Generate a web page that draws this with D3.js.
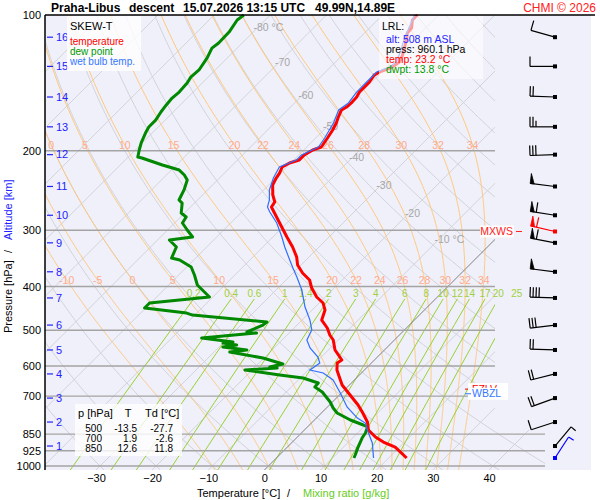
<!DOCTYPE html>
<html>
<head>
<meta charset="utf-8">
<script src="https://cdn.jsdelivr.net/npm/d3@7"></script>
<style>
  body { margin: 0; background: #fff; }
  svg text { font-family: "Liberation Sans", Arial, sans-serif; }
</style>
</head>
<body>
<svg id="chart" width="600" height="500"></svg>
<script>
// sounding: pressure [hPa] and temperature [°C]
const tempP = [100, 102.6, 106.9, 109.6, 113.6, 122.7, 127.2, 130.4, 133.8, 135.9, 140.8, 144.4, 148.2, 152.0, 156.7, 160.0, 162.4, 168.4, 173.6, 179.9, 187.4, 196.2, 199.2, 204.4, 209.7, 212.9, 217.3, 224.1, 229.9, 238.2, 250.6, 259.8, 266.5, 280.5, 295.2, 310.6, 326.9, 344.0, 358.4, 373.3, 386.9, 403.0, 422.0, 435.1, 451.0, 474.7, 494.3, 512.3, 525.5, 553.1, 582.1, 591.0, 612.5, 644.7, 661.3, 696.0, 732.4, 759.1, 798.8, 832.1, 862.5, 884.8, 907.8, 960]
const tempT = [-53.8, -53.8, -52.5, -52.4, -51.3, -49.3, -48.6, -49.0, -50.4, -50.8, -50.4, -50.4, -50.4, -50.0, -49.9, -50.0, -50.4, -49.7, -49.0, -48.4, -47.9, -47.4, -48.4, -49.0, -49.0, -50.2, -50.8, -50.2, -49.9, -49.3, -47.5, -45.9, -45.6, -42.9, -40.2, -37.5, -34.7, -32.2, -30.6, -28.3, -25.8, -24.0, -21.5, -19.3, -17.7, -16.5, -14.1, -12.4, -10.9, -8.8, -5.8, -6.1, -4.9, -2.5, -1.3, 1.9, 5.1, 7.1, 9.8, 11.4, 13.9, 16.2, 19.2, 23.2]

const dewP = [100, 102.6, 109.1, 115.4, 118.4, 124.5, 132.4, 137.3, 141.5, 148.2, 152.8, 158.3, 164.1, 171.0, 177.1, 181.7, 192.2, 199.2, 206.5, 207.5, 215.1, 220.7, 226.4, 232.2, 244.3, 257.2, 261.2, 274.8, 280.5, 289.2, 299.7, 310.6, 315.4, 326.9, 345.8, 349.3, 362.1, 377.1, 396.9, 422.0, 435.1, 446.4, 458.0, 462.7, 479.5, 486.9, 504.5, 507.1, 520.2, 530.9, 533.7, 539.2, 544.7, 553.1, 558.7, 576.1, 594.0, 603.2, 606.3, 612.5, 628.4, 638.1, 654.6, 668.1, 685.3, 721.3, 743.7, 763.0, 790.7, 811.1, 819.4, 845.0, 866.9, 907.8, 945.4, 960]
const dewT = [-84.7, -85.0, -84.3, -84.2, -84.5, -83.6, -82.9, -83.1, -82.7, -82.5, -82.7, -82.5, -82.2, -81.7, -81.7, -81.3, -80.2, -79.3, -78.3, -77.4, -72.5, -68.6, -66.8, -65.4, -64.2, -63.3, -62.2, -60.6, -59.0, -58.6, -56.5, -54.3, -57.9, -55.4, -54.3, -52.5, -49.2, -47.2, -44.9, -40.6, -50.2, -50.2, -41.8, -40.4, -25.9, -26.1, -27.7, -25.8, -34.7, -28.4, -30.0, -27.2, -29.3, -24.5, -27.2, -20.2, -15.6, -17.4, -15.9, -21.3, -14.2, -9.5, -5.9, -5.8, -3.6, -0.4, 1.2, 2.8, 6.4, 9.6, 10.7, 11.4, 11.7, 12.6, 13.5, 13.8]

const wetBulbP = [100, 112.4, 122.7, 127.2, 130.4, 133.8, 140.8, 148.2, 156.7, 162.4, 173.6, 187.4, 196.2, 204.4, 209.7, 217.3, 229.9, 244.3, 257.2, 266.5, 273.4, 289.2, 310.6, 326.9, 349.3, 363.9, 381.0, 407.2, 444.1, 474.7, 499.4, 525.5, 547.5, 573.2, 591.0, 612.5, 622.0, 644.7, 688.8, 740.0, 782.8, 803.0, 840.6, 889.0, 960]
const wetBulbT = [-54.3, -52.0, -49.9, -49.2, -49.5, -50.9, -50.9, -50.9, -50.4, -50.9, -49.5, -48.4, -47.9, -49.5, -49.5, -51.3, -50.4, -49.0, -47.2, -46.3, -45.0, -41.8, -38.4, -36.1, -32.9, -30.9, -28.6, -25.4, -21.8, -18.6, -16.5, -15.6, -13.6, -10.6, -9.2, -9.7, -6.8, -3.8, -0.2, 3.5, 7.3, 9.6, 11.7, 14.4, 17.3]

// winds: pressure [hPa], direction [deg], speed [kt]; index 0 = surface, index 10 = max wind
const windP = [960, 903, 799, 707, 625, 553, 487, 424, 371, 320, 302, 278, 240, 204, 177, 152, 130, 112]
const windDir = [33, 40, 252, 250, 256, 272, 263, 272, 277, 281, 283, 279, 277, 268, 270, 272, 270, 286]
const windSpd = [5, 5, 10, 20, 20, 20, 30, 40, 50, 60, 60, 60, 50, 30, 25, 20, 10, 10]
const surfaceIndex = 0
const maxWindIndex = 10

// altitude ticks [km] and their pressures
const altKm = [1, 2, 3, 4, 5, 6, 7, 8, 9, 10, 11, 12, 13, 14, 15, 16]
const altP = [903, 799, 707, 625, 553, 487, 424, 371, 320, 278, 240, 204, 177, 152, 130, 112]

const pressureTicks = [100, 200, 300, 400, 500, 600, 700, 850, 925, 1000]
const tempTicks = [-30, -20, -10, 0, 10, 20, 30, 40]
const mixRatios = [0.2, 0.4, 0.6, 1, 1.4, 2, 3, 4, 6, 8, 10, 12, 14, 17, 20, 25]
const moistThetaW = [-10, -5, 0, 5, 10, 15, 20, 22, 24, 26, 28, 30, 32, 34]
const isothermLabels = [-80, -70, -60, -50, -40, -30, -20, -10]

const tableRows = [[500, '-13.5', '-27.7'], [700, '1.9', '-2.6'], [850, '12.6', '11.8']]
const lrlLines = [
    ['alt: 508 m ASL', '#2222ff'],
    ['press: 960.1 hPa', '#000'],
    ['temp: 23.2 °C', '#ff0000'],
    ['dwpt: 13.8 °C', '#009900']
]

const svg = d3.select('#chart')

const plotLeft = 45
const plotRight = 495
const plotTop = 15
const plotBottom = 470
const windX = 555

const y = d3.scaleLog().domain([100, 1000]).range([15, 466])
// temperature scale along the bottom edge of the diagram
const xT = d3.scaleLinear().domain([-30, 40]).range([96, 489])
const skewX = (t, p) => xT(t) + (plotBottom - y(p))
const pBottom = y.invert(plotBottom)

const pSteps = d3.range(0, 121).map(i => pBottom * Math.pow(100 / pBottom, i / 120))

// thermodynamics for the background lines
const satVap = tc => 6.112 * Math.exp(17.67 * tc / (tc + 243.5))
const dewFromVap = e => {
    const l = Math.log(e / 6.112)
    return 243.5 * l / (17.67 - l)
}
const moistLapse = (tk, p) => {
    const es = satVap(tk - 273.15)
    const rs = 0.622 * es / (p - es)
    return (287 * tk + 2.5e6 * rs) / (p * (1004 + 2.5e6 * 2.5e6 * rs * 0.622 / (287 * tk * tk)))
}
const moistAdiabat = thw => {
    const integrate = (dp, stop) => {
        const pts = []
        let tk = thw + 273.15
        let p = 1000
        while (dp < 0 ? p > stop : p < stop) {
            pts.push([p, tk - 273.15])
            const k1 = moistLapse(tk, p)
            const k2 = moistLapse(tk + k1 * dp, p + dp)
            tk += (k1 + k2) / 2 * dp
            p += dp
        }
        pts.push([p, tk - 273.15])
        return pts
    }
    return integrate(2, pBottom + 2).reverse().concat(integrate(-2, 100))
}
// temperature on a polyline at a given pressure (points sorted by descending p)
const tempAt = (pts, pt) => {
    for (let i = 1; i < pts.length; i++) {
        const [p0, t0] = pts[i - 1]
        const [p1, t1] = pts[i]
        if (pt <= p0 && pt >= p1) return t0 + (t1 - t0) * (pt - p0) / (p1 - p0)
    }
    return null
}

const gridLine = d3.line().x(d => skewX(d[1], d[0])).y(d => y(d[0]))

svg.append('rect')
    .attr('x', plotLeft).attr('y', plotTop)
    .attr('width', 591 - plotLeft).attr('height', plotBottom - plotTop)
    .attr('fill', '#f0f0fa')

svg.append('clipPath').attr('id', 'plotClip')
    .append('path')
    .attr('d', `M${plotLeft},${plotTop}H${plotRight}V430H545V${plotBottom}H${plotLeft}Z`)

const grid = svg.append('g').attr('clip-path', 'url(#plotClip)')

// isotherms
grid.selectAll('.isotherm')
    .data(d3.range(-160, 50, 10).filter(t => t !== 0))
    .join('line')
    .attr('x1', t => skewX(t, pBottom)).attr('y1', plotBottom)
    .attr('x2', t => skewX(t, 100)).attr('y2', plotTop)
    .attr('stroke', '#d2d2d8').attr('stroke-width', 1)

// dry adiabats
grid.selectAll('.dry')
    .data(d3.range(-30, 220, 10))
    .join('path')
    .attr('d', th => gridLine(pSteps.map(p => [p, (th + 273.15) * Math.pow(p / 1000, 0.2857) - 273.15])))
    .attr('fill', 'none').attr('stroke', '#d2d2d8').attr('stroke-width', 1)

// moist adiabats
const moistLines = moistThetaW.map(thw => ({ thw, pts: moistAdiabat(thw) }))
grid.selectAll('.moist')
    .data(moistLines)
    .join('path')
    .attr('d', d => gridLine(d.pts))
    .attr('fill', 'none').attr('stroke', '#ffc77a').attr('stroke-width', 1)

// mixing ratio lines
const mixTopP = 426
const mixLines = mixRatios.map(w => ({
    w,
    pts: d3.range(0, 11).map(i => {
        const p = pBottom + (mixTopP - pBottom) * i / 10
        return [p, dewFromVap(w * p / (622 + w))]
    })
}))
grid.selectAll('.mix')
    .data(mixLines)
    .join('path')
    .attr('d', d => gridLine(d.pts))
    .attr('fill', 'none').attr('stroke', '#99d030').attr('stroke-width', 1)

// 0 °C isotherm
grid.append('line')
    .attr('x1', skewX(0, pBottom)).attr('y1', plotBottom)
    .attr('x2', skewX(0, 100)).attr('y2', plotTop)
    .attr('stroke', '#808080').attr('stroke-width', 1)

// pressure levels
grid.selectAll('.plevel')
    .data(pressureTicks.slice(1))
    .join('line')
    .attr('x1', plotLeft).attr('x2', 545)
    .attr('y1', p => y(p)).attr('y2', p => y(p))
    .attr('stroke', '#a4a4a4').attr('stroke-width', 1.4)

// moist adiabat labels on two rows
const labelRows = [145, 280]
labelRows.forEach(rowY => {
    const pRow = y.invert(rowY)
    const labels = moistLines
        .map(d => ({ thw: d.thw, x: skewX(tempAt(d.pts, pRow), pRow) }))
        .filter(d => d.x > 47 && d.x < 490)
    svg.append('g').selectAll('text')
        .data(labels)
        .join('text')
        .attr('x', d => d.x).attr('y', rowY).attr('dy', '0.35em')
        .attr('text-anchor', 'middle')
        .attr('font-size', 10.5)
        .attr('fill', '#ffab8c')
        .text(d => d.thw)
})

// isotherm labels along the 366 K dry adiabat
const labelP = t => 1000 * Math.pow((t + 273.15) / 366, 1 / 0.2857)
svg.append('g').selectAll('text')
    .data(isothermLabels)
    .join('text')
    .attr('x', t => skewX(t, labelP(t)) - 4)
    .attr('y', t => y(labelP(t)))
    .attr('dy', '0.35em')
    .attr('font-size', 10.5)
    .attr('fill', '#a6a6a6')
    .text(t => (t === -80 || t === -10) ? `${t} °C` : `${t}`)

// mixing ratio labels
svg.append('g').selectAll('text')
    .data(mixLines)
    .join('text')
    .attr('x', d => skewX(d.pts[d.pts.length - 1][1], mixTopP))
    .attr('y', 297)
    .attr('text-anchor', 'middle')
    .attr('font-size', 10)
    .attr('fill', '#a0d040')
    .text(d => d.w)

// altitude ticks
const altG = svg.append('g')
altG.selectAll('line')
    .data(altP)
    .join('line')
    .attr('x1', 47).attr('x2', 53)
    .attr('y1', p => y(p)).attr('y2', p => y(p))
    .attr('stroke', '#2222ff').attr('stroke-width', 1.2)
altG.selectAll('text')
    .data(altKm)
    .join('text')
    .attr('x', 56).attr('y', (k, i) => y(altP[i])).attr('dy', '0.35em')
    .attr('font-size', 11)
    .attr('fill', '#2222ff')
    .text(k => k)

// profiles
const profile = d3.line().x(d => skewX(d[1], d[0])).y(d => y(d[0]))
svg.append('path')
    .attr('d', profile(d3.zip(dewP, dewT)))
    .attr('fill', 'none').attr('stroke', '#008800').attr('stroke-width', 3)
    .attr('stroke-linejoin', 'round')
svg.append('path')
    .attr('d', profile(d3.zip(tempP, tempT)))
    .attr('fill', 'none').attr('stroke', '#ff0000').attr('stroke-width', 3)
    .attr('stroke-linejoin', 'round')
svg.append('path')
    .attr('d', profile(d3.zip(wetBulbP, wetBulbT)))
    .attr('fill', 'none').attr('stroke', '#2f6fff').attr('stroke-width', 1.2)

// legend box
const legend = svg.append('g')
legend.append('rect')
    .attr('x', 67).attr('y', 16).attr('width', 74).attr('height', 55)
    .attr('fill', '#fff').attr('opacity', 0.8)
legend.append('text').attr('x', 70).attr('y', 30).attr('font-size', 11).attr('fill', '#000').text('SKEW-T')
legend.selectAll('.item')
    .data([['temperature', '#ff0000'], ['dew point', '#009900'], ['wet bulb temp.', '#3377ff']])
    .join('text')
    .attr('x', 70).attr('y', (d, i) => 45 + i * 10)
    .attr('font-size', 10)
    .attr('fill', d => d[1])
    .text(d => d[0])

// LRL box
const lrl = svg.append('g')
lrl.append('rect')
    .attr('x', 379).attr('y', 16).attr('width', 104).attr('height', 63)
    .attr('fill', '#fff').attr('opacity', 0.6)
lrl.append('text').attr('x', 382).attr('y', 30).attr('font-size', 10.5).attr('fill', '#000').text('LRL:')
lrl.selectAll('.line')
    .data(lrlLines)
    .join('text')
    .attr('x', 386).attr('y', (d, i) => 43 + i * 10)
    .attr('font-size', 10.5)
    .attr('fill', d => d[1])
    .text(d => d[0])

// standard level table
const table = svg.append('g')
table.append('rect')
    .attr('x', 75).attr('y', 404).attr('width', 107).attr('height', 52)
    .attr('fill', '#fff').attr('opacity', 0.8)
table.append('text').attr('x', 78).attr('y', 417).attr('font-size', 11).text('p [hPa]')
table.append('text').attr('x', 128).attr('y', 417).attr('font-size', 11).attr('text-anchor', 'middle').text('T')
table.append('text').attr('x', 145).attr('y', 417).attr('font-size', 11).text('Td [°C]')
tableRows.forEach((row, i) => {
    const ry = 432 + i * 10
    table.append('text').attr('x', 102).attr('y', ry).attr('font-size', 10).attr('text-anchor', 'end').text(row[0])
    table.append('text').attr('x', 137).attr('y', ry).attr('font-size', 10).attr('text-anchor', 'end').text(row[1])
    table.append('text').attr('x', 173).attr('y', ry).attr('font-size', 10).attr('text-anchor', 'end').text(row[2])
})

// freezing level and wet bulb zero, found on the profiles
const zeroLevel = (ps, ts) => {
    for (let i = ps.length - 1; i > 0; i--) {
        if (ts[i] >= 0 && ts[i - 1] < 0) return ps[i] + (ps[i - 1] - ps[i]) * ts[i] / (ts[i] - ts[i - 1])
    }
    return null
}
const levelLabel = (p, label, colour) => {
    const ly = y(p)
    svg.append('rect').attr('x', 468).attr('y', ly - 6).attr('width', 40).attr('height', 12).attr('fill', '#fff')
    svg.append('line').attr('x1', 465).attr('x2', 471).attr('y1', ly).attr('y2', ly).attr('stroke', colour)
    svg.append('text').attr('x', 472).attr('y', ly).attr('dy', '0.35em').attr('font-size', 10.5).attr('fill', colour).text(label)
}
levelLabel(zeroLevel(tempP, tempT), 'FZLV', '#ff0000')
levelLabel(zeroLevel(wetBulbP, wetBulbT), 'WBZL', '#3377ff')

// max wind label
const mxY = y(windP[maxWindIndex])
svg.append('rect').attr('x', 480).attr('y', mxY - 6).attr('width', 34).attr('height', 12).attr('fill', '#fff').attr('opacity', 0.9)
svg.append('text').attr('x', 513).attr('y', mxY).attr('dy', '0.35em').attr('text-anchor', 'end')
    .attr('font-size', 10.5).attr('fill', '#ff2020').text('MXWS')
svg.append('line').attr('x1', 516).attr('x2', 522).attr('y1', mxY).attr('y2', mxY).attr('stroke', '#ff2020')

// wind barbs
const drawBarb = (g, x0, y0, dir, spd, colour) => {
    const len = 25
    const rad = dir * Math.PI / 180
    const ux = Math.sin(rad)
    const uy = -Math.cos(rad)
    const vx = -uy
    const vy = ux
    const at = d => [x0 + ux * d, y0 + uy * d]
    const [ex, ey] = at(len)
    g.append('line').attr('x1', x0).attr('y1', y0).attr('x2', ex).attr('y2', ey)
        .attr('stroke', colour).attr('stroke-width', 1.2)
    let rest = Math.round(spd / 5) * 5
    let pos = len
    while (rest >= 50) {
        const [ax, ay] = at(pos)
        const [bx, by] = at(pos - 4)
        g.append('path')
            .attr('d', `M${ax},${ay}L${ax + vx * 10},${ay + vy * 10}L${bx},${by}Z`)
            .attr('fill', colour).attr('stroke', colour).attr('stroke-width', 0.8)
        rest -= 50
        pos -= 6
    }
    while (rest >= 10) {
        const [ax, ay] = at(pos)
        g.append('line').attr('x1', ax).attr('y1', ay).attr('x2', ax + vx * 10).attr('y2', ay + vy * 10)
            .attr('stroke', colour).attr('stroke-width', 1.2)
        rest -= 10
        pos -= 3
    }
    if (rest >= 5) {
        const [ax, ay] = at(pos)
        g.append('line').attr('x1', ax).attr('y1', ay).attr('x2', ax + vx * 6).attr('y2', ay + vy * 6)
            .attr('stroke', colour).attr('stroke-width', 1.2)
    }
    g.append('rect').attr('x', x0 - 2).attr('y', y0 - 2).attr('width', 4).attr('height', 4).attr('fill', colour)
}
const windG = svg.append('g')
windP.forEach((p, i) => {
    const colour = i === surfaceIndex ? '#0000ff' : i === maxWindIndex ? '#ff0000' : '#000'
    drawBarb(windG, windX, y(p), windDir[i], windSpd[i], colour)
})

// axes
const leftAxis = svg.append('g')
    .attr('transform', `translate(${plotLeft},0)`)
    .call(d3.axisLeft(y).tickValues(pressureTicks).tickFormat(d3.format('d')).tickSize(0).tickPadding(4))
leftAxis.select('.domain').remove()
leftAxis.selectAll('text').attr('font-size', 11).attr('fill', '#000').style('font-family', '"Liberation Sans", Arial, sans-serif')

const bottomAxis = svg.append('g')
    .attr('transform', `translate(0,${y(1000)})`)
    .call(d3.axisBottom(xT).tickValues(tempTicks).tickSize(0).tickPadding(8))
bottomAxis.select('.domain').remove()
bottomAxis.selectAll('text').attr('font-size', 11).attr('fill', '#000').style('font-family', '"Liberation Sans", Arial, sans-serif')

svg.append('line').attr('x1', plotLeft).attr('x2', plotLeft).attr('y1', plotTop).attr('y2', plotBottom)
    .attr('stroke', '#000').attr('stroke-width', 1.5)
svg.append('line').attr('x1', plotLeft).attr('x2', 595).attr('y1', plotTop).attr('y2', plotTop)
    .attr('stroke', '#000').attr('stroke-width', 1.5)

// titles
const title = svg.append('text').attr('y', 12).attr('font-size', 12).attr('font-weight', 'bold').attr('fill', '#000')
title.append('tspan').attr('x', 51).text('Praha-Libus')
title.append('tspan').attr('x', 129).text('descent')
title.append('tspan').attr('x', 183).text('15.07.2026 13:15 UTC')
title.append('tspan').attr('x', 315).text('49.99N,14.89E')
svg.append('text').attr('x', 596).attr('y', 12).attr('text-anchor', 'end')
    .attr('font-size', 12).attr('fill', '#ff2020').text('CHMI © 2026')

const xTitle = svg.append('text').attr('y', 497).attr('font-size', 11)
xTitle.append('tspan').attr('x', 197).attr('fill', '#000').text('Temperature [°C]')
xTitle.append('tspan').attr('x', 287).attr('fill', '#000').text('/')
xTitle.append('tspan').attr('x', 303).attr('fill', '#66cc22').text('Mixing ratio [g/kg]')

const yTitle = svg.append('text').attr('transform', 'translate(12,333) rotate(-90)').attr('font-size', 11)
yTitle.append('tspan').attr('x', 0).attr('fill', '#000').text('Pressure [hPa]')
yTitle.append('tspan').attr('x', 80).attr('fill', '#000').text('/')
yTitle.append('tspan').attr('x', 93).attr('fill', '#2222ff').text('Altitude [km]')
</script>
</body>
</html>
